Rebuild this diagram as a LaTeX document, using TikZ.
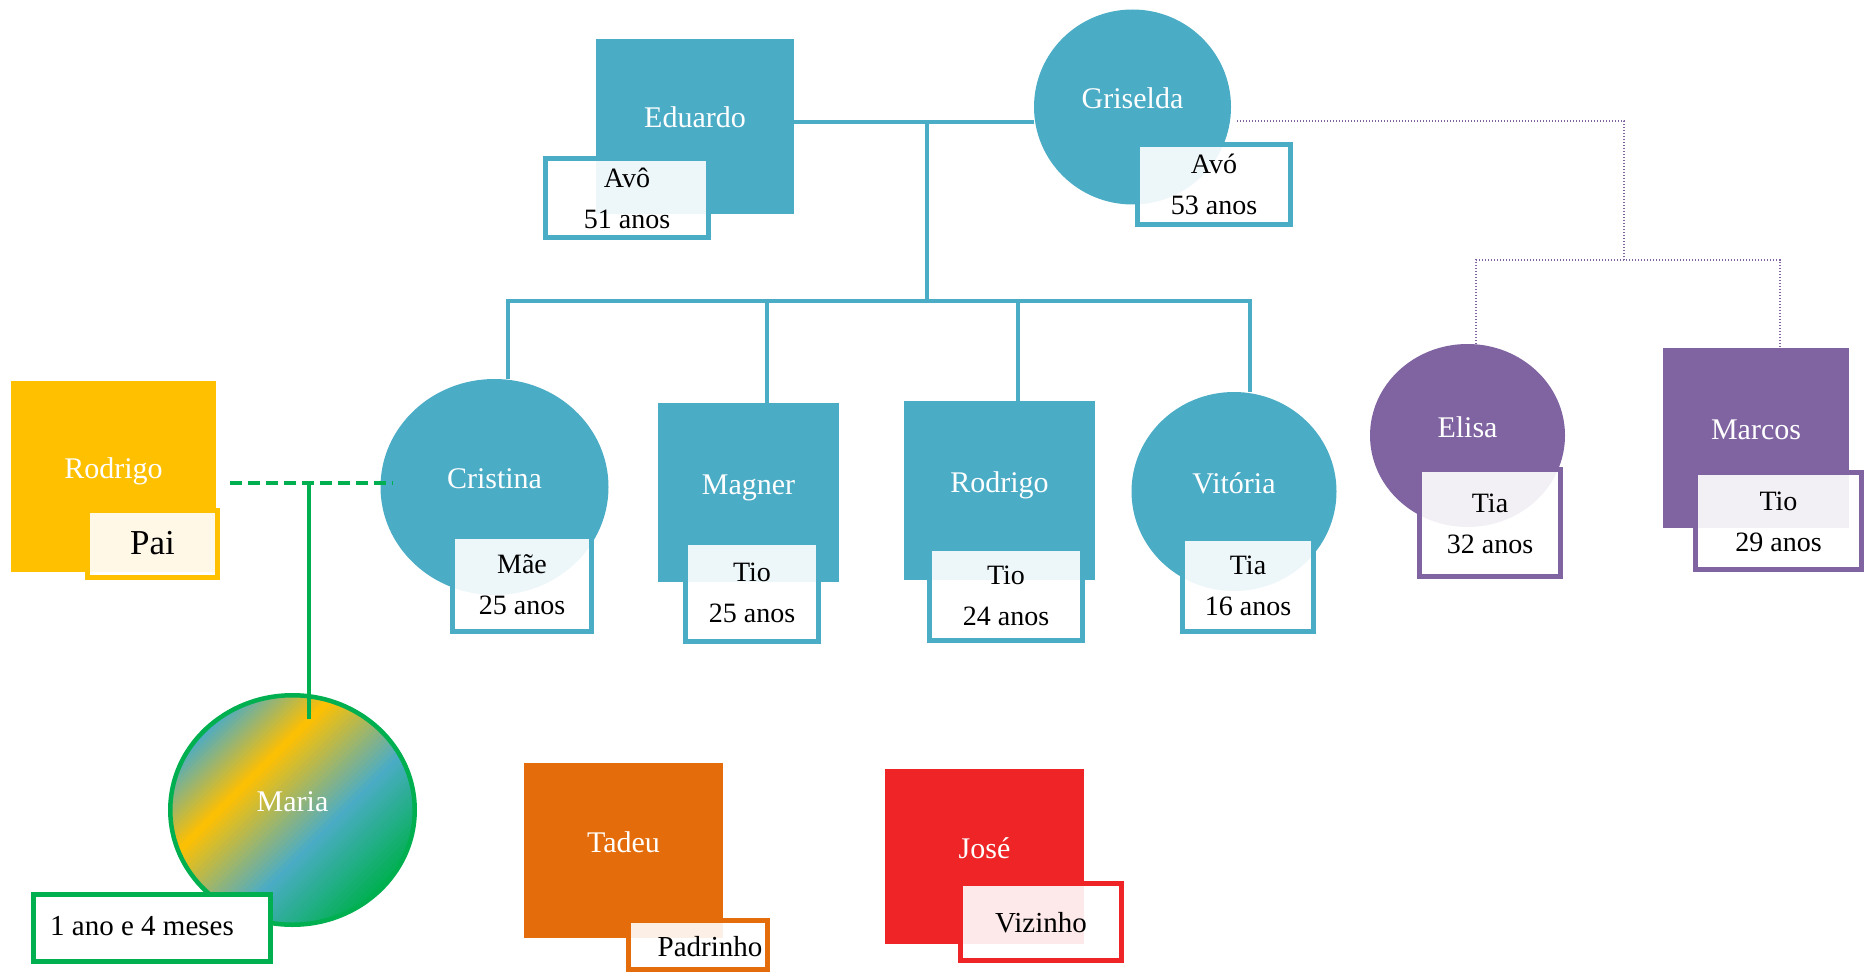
\documentclass[tikz,border=0pt]{standalone}
\usepackage{fontspec}
\setmainfont{Liberation Serif}
\usetikzlibrary{shapes.geometric}
\definecolor{cblue}{HTML}{4BACC6}
\definecolor{cpurple}{HTML}{8064A2}
\definecolor{cyellow}{HTML}{FFC000}
\definecolor{cgreen}{HTML}{00B050}
\definecolor{corange}{HTML}{E46C0A}
\definecolor{cred}{HTML}{EE2426}
\begin{document}
\begin{tikzpicture}[x=1pt,y=-1pt,
 base/.style={inner sep=0pt, outer sep=0pt},
 person/.style={base, text=white, font=\fontsize{30}{36}\selectfont, text height=3pt, text depth=0pt},
 sqbox/.style={person, rectangle, fill=#1},
 ebox/.style={person, ellipse, fill=#1},
 tag/.style={base, rectangle, draw=#1, line width=5pt, fill=white, fill opacity=0.9, text opacity=1, text=black, font=\fontsize{28}{41}\selectfont, align=center, text height=61pt, text depth=0pt},
 tagone/.style={tag=#1, font=\fontsize{29}{36}\selectfont, text depth=0pt},
 couple/.style={draw=cblue, line width=4pt},
 gdash/.style={draw=cgreen, line width=4pt, dash pattern=on 12pt off 6pt},
 gline/.style={draw=cgreen, line width=4pt},
 pdot/.style={draw=cpurple, line width=1.3pt, dash pattern=on 1.2pt off 1.8pt}
]
\useasboundingbox (0,0) rectangle (1865,973);

% Maria gradient fill
\begin{scope}
 \clip (292.5,810) ellipse [x radius=122.5, y radius=115];
 \begin{scope}[shift={(292.5,810)}, rotate=-45]
  \fill[cblue] (-170,-170) rectangle (-117.5,170);
  \fill[cgreen] (117.5,-170) rectangle (170,170);
  \foreach \a/\b/\ca/\cb in {-118/-52/cblue/cyellow, -52/36/cyellow/cblue, 36/118/cblue/cgreen} {
   \foreach \i in {0,...,19} {
    \pgfmathsetmacro\da{\a+(\b-\a)*\i/20}
    \pgfmathsetmacro\db{\a+(\b-\a)*(\i+1)/20+0.7}
    \pgfmathtruncatemacro\p{100*(\i+0.5)/20}
    \fill[\cb!\p!\ca] (\da,-170) rectangle (\db,170);
   }
  }
 \end{scope}
\end{scope}

% people
\node[sqbox=cblue, minimum width=198pt, minimum height=175pt] (edu) at (695,126.5) {Eduardo};
\node[ebox=cblue, minimum width=197pt, minimum height=195pt] (gri) at (1132.5,107) {Griselda};
\node[ebox=cblue, minimum width=228pt, minimum height=216pt] (cri) at (494.5,487) {Cristina};
\node[sqbox=cyellow, minimum width=205pt, minimum height=191pt] (rodY) at (113.5,476.5) {Rodrigo};
\node[sqbox=cblue, minimum width=181pt, minimum height=179pt] (mag) at (748.5,492.5) {Magner};
\node[sqbox=cblue, minimum width=191pt, minimum height=179pt] (rodB) at (999.5,490.5) {Rodrigo};
\node[ebox=cblue, minimum width=205pt, minimum height=199pt] (vit) at (1234,491.5) {Vitória};
\node[ebox=cpurple, minimum width=195pt, minimum height=183pt] (eli) at (1467.5,435.5) {Elisa};
\node[sqbox=cpurple, minimum width=186pt, minimum height=180pt] (mar) at (1756,438) {Marcos};
\node[sqbox=corange, minimum width=199pt, minimum height=175pt] (tad) at (623.5,850.5) {Tadeu};
\node[sqbox=cred, minimum width=199pt, minimum height=175pt] (jos) at (984.5,856.5) {José};
\node[person, ellipse, draw=cgreen, line width=4.5pt, minimum width=244.5pt, minimum height=229.5pt] (maria) at (292.5,810) {Maria};

% tags
\node[tag=cblue, minimum width=163pt, minimum height=79pt] (eduL) at (627,198) {Avô\\51 anos};
\node[tag=cblue, minimum width=153pt, minimum height=80pt] (griL) at (1214,184.5) {Avó\\53 anos};
\node[tag=cblue, minimum width=139pt, minimum height=95pt] (criL) at (522,584) {Mãe\\25 anos};
\node[tag=cblue, minimum width=133pt, minimum height=99pt] (magL) at (752,592) {Tio\\25 anos};
\node[tag=cblue, minimum width=153pt, minimum height=92pt] (rodL) at (1006,594.5) {Tio\\24 anos};
\node[tag=cblue, minimum width=131pt, minimum height=93pt] (vitL) at (1248,585) {Tia\\16 anos};
\node[tag=cpurple, minimum width=141pt, minimum height=107pt] (eliL) at (1490,523) {Tia\\32 anos};
\node[tag=cpurple, minimum width=166pt, minimum height=97pt] (marL) at (1778.5,521) {Tio\\29 anos};
\node[tagone=cyellow, font=\fontsize{35}{42}\selectfont, text height=21pt, minimum width=130pt, minimum height=67pt] (paiL) at (152.5,544) {Pai};
\node[tagone=cgreen, fill opacity=1, text height=15pt, minimum width=237pt, minimum height=67pt] (mariaL) at (152,928) {1 ano e 4 meses\hspace*{20pt}};
\node[tagone=corange, text height=23pt, minimum width=139pt, minimum height=49pt] (tadL) at (698,945) {\hspace*{24pt}Padrinho};
\node[tagone=cred, text height=21pt, minimum width=161pt, minimum height=77pt] (josL) at (1041,922) {Vizinho};

% blue family connectors
\coordinate (cpl) at (927,122);
\coordinate (jn) at (927,301);
\coordinate (b1) at (508,301);
\coordinate (b2) at (767,301);
\coordinate (b3) at (1018,301);
\coordinate (b4) at (1250,301);
\draw[couple] (edu.east |- cpl) -- (gri.west |- cpl);
\draw[couple] (cpl) -- (jn);
\draw[couple] (b1 |- cri.north) -- (b1) -- (b4) -- (b4 |- vit.north);
\draw[couple] (b2) -- (b2 |- mag.north);
\draw[couple] (b3) -- (b3 |- rodB.north);

% green connectors
\coordinate (gm) at (309,483);
\draw[gdash] ([xshift=14pt]rodY.east |- gm) -- ([xshift=12pt]cri.west |- gm);
\draw[gline] (gm) -- ([yshift=-24pt]gm |- maria.north);

% purple dotted connectors
\coordinate (pc) at (1624,121);
\coordinate (pj) at (1624,260);
\coordinate (pl) at (1476,260);
\coordinate (pr) at (1780,260);
\draw[pdot] ([xshift=6pt]gri.east |- pc) -- (pc) -- (pj);
\draw[pdot] (pl |- eli.north) -- (pl) -- (pr) -- (pr |- mar.north);
\end{tikzpicture}
\end{document}
